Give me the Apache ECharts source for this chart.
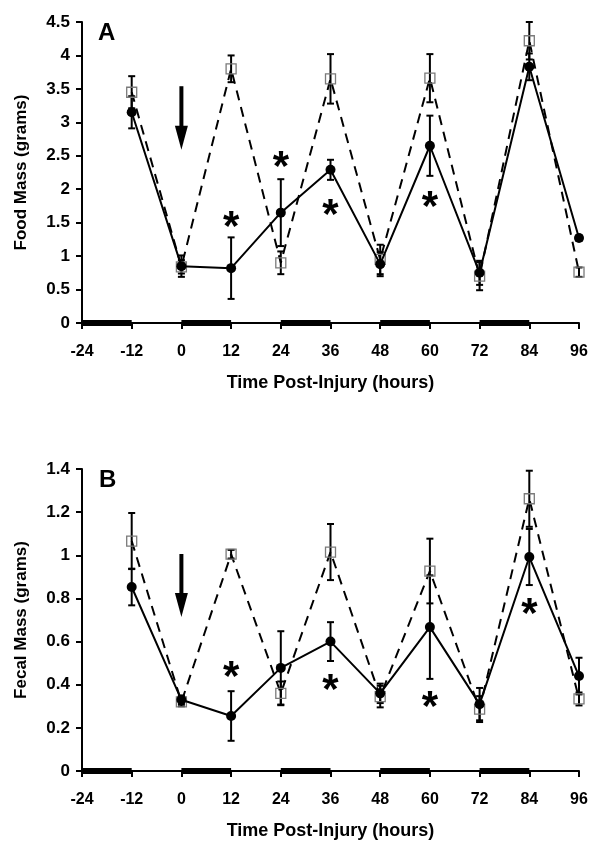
<!DOCTYPE html>
<html><head><meta charset="utf-8">
<script src="https://cdn.jsdelivr.net/npm/echarts/dist/echarts.min.js"></script>
<style>html,body{margin:0;padding:0;background:#fff}#c{width:600px;height:852px}</style>
</head><body><div id="c"></div>
<script>
// ---- data ----
const hours = [-12, 0, 12, 24, 36, 48, 60, 72, 84, 96];
const darkStarts = [-24, 0, 24, 48, 72];
const darkLength = 12;

// Panel A: Food Mass (grams)
const foodInjured    = [3.15, 0.85, 0.82, 1.65, 2.29, 0.88, 2.65, 0.75, 3.83, 1.27];
const foodInjuredErr = [0.24, 0.16, 0.46, 0.50, 0.15, 0.18, 0.45, 0.18, 0.20, 0.04];
const foodControl    = [3.45, 0.84, 3.80, 0.90, 3.65, 0.95, 3.66, 0.70, 4.22, 0.76];
const foodControlErr = [0.24, 0.10, 0.20, 0.17, 0.37, 0.22, 0.36, 0.21, 0.28, 0.07];
const foodStarsX = [12, 24, 36, 60];
const foodStarsY = [1.58, 2.48, 1.76, 1.87];
const foodArrow = [0, 3.54, 2.59];

// Panel B: Fecal Mass (grams)
const fecalInjured    = [0.853, 0.33, 0.255, 0.478, 0.60, 0.36, 0.667, 0.31, 0.992, 0.44];
const fecalInjuredErr = [0.085, 0.02, 0.115, 0.17, 0.09, 0.045, 0.24, 0.075, 0.13, 0.085];
const fecalControl    = [1.066, 0.32, 1.005, 0.36, 1.015, 0.345, 0.927, 0.287, 1.262, 0.334];
const fecalControlErr = [0.13, 0.02, 0.02, 0.055, 0.13, 0.05, 0.15, 0.06, 0.13, 0.03];
const fecalStarsX = [12, 36, 60, 84];
const fecalStarsY = [0.478, 0.422, 0.343, 0.77];
const fecalArrow = [0, 1.006, 0.714];

// ---- chart ----
const FONT = 'Liberation Sans, Arial, sans-serif';
const chart = echarts.init(document.getElementById('c'), null, {renderer: 'canvas'});

function pairs(v) { return hours.map((h, i) => [h, v[i]]); }
function errs(v, e) { return hours.map((h, i) => [h, v[i] - e[i], v[i] + e[i]]); }

function errRender(params, api) {
  const x = api.value(0), lo = api.value(1), hi = api.value(2);
  const p1 = api.coord([x, lo]), p2 = api.coord([x, hi]);
  const w = 3.5;
  const st = {stroke: '#000', lineWidth: 2};
  return {type: 'group', children: [
    {type: 'line', shape: {x1: p1[0], y1: p1[1], x2: p2[0], y2: p2[1]}, style: st},
    {type: 'line', shape: {x1: p1[0] - w, y1: p1[1], x2: p1[0] + w, y2: p1[1]}, style: st},
    {type: 'line', shape: {x1: p2[0] - w, y1: p2[1], x2: p2[0] + w, y2: p2[1]}, style: st}
  ]};
}
function darkRender(params, api) {
  const a = api.coord([api.value(0), 0]);
  const b = api.coord([api.value(0) + darkLength, 0]);
  return {type: 'rect', shape: {x: a[0], y: a[1] - 3, width: b[0] - a[0], height: 6}, style: {fill: '#000'}};
}
function starRender(params, api) {
  const p = api.coord([api.value(0), api.value(1)]);
  return {type: 'text', x: p[0], y: p[1] + 11, style: {text: '*', font: 'bold 42px ' + FONT, fill: '#000', align: 'center', verticalAlign: 'middle'}};
}
function arrowRender(params, api) {
  const top = api.coord([api.value(0), api.value(1)]);
  const tip = api.coord([api.value(0), api.value(2)]);
  const hl = 24, hw = 6.5;
  return {type: 'group', children: [
    {type: 'line', shape: {x1: top[0], y1: top[1], x2: tip[0], y2: tip[1] - hl + 2}, style: {stroke: '#000', lineWidth: 4}},
    {type: 'polygon', shape: {points: [[tip[0] - hw, tip[1] - hl], [tip[0] + hw, tip[1] - hl], [tip[0], tip[1]]]}, style: {fill: '#000'}}
  ]};
}

function xAxis(idx) {
  return {
    type: 'value', gridIndex: idx, min: -24, max: 96, interval: 12,
    name: 'Time Post-Injury (hours)', nameLocation: 'middle', nameGap: 51,
    nameTextStyle: {fontFamily: FONT, fontWeight: 'bold', fontSize: 18, color: '#000'},
    axisLine: {onZero: false, lineStyle: {color: '#000', width: 2}},
    axisTick: {show: true, length: 6, lineStyle: {color: '#000', width: 2}},
    axisLabel: {fontFamily: FONT, fontWeight: 'bold', fontSize: 16, color: '#000', margin: 21},
    splitLine: {show: false}
  };
}
function yAxis(idx, max, interval, name) {
  return {
    type: 'value', gridIndex: idx, min: 0, max: max, interval: interval,
    name: name, nameLocation: 'middle', nameGap: 52,
    nameTextStyle: {fontFamily: FONT, fontWeight: 'bold', fontSize: 17, color: '#000'},
    axisLine: {show: true, onZero: false, lineStyle: {color: '#000', width: 2}},
    axisTick: {show: true, length: 6, lineStyle: {color: '#000', width: 2}},
    axisLabel: {fontFamily: FONT, fontWeight: 'bold', fontSize: 17, color: '#000', margin: 12},
    splitLine: {show: false}
  };
}

function panelSeries(idx, ctrl, ctrlE, inj, injE, sx, sy, arrow) {
  return [
    {type: 'custom', xAxisIndex: idx, yAxisIndex: idx, renderItem: darkRender, data: darkStarts.map(s => [s, 0]), z: 1, silent: true, clip: false},
    {type: 'custom', xAxisIndex: idx, yAxisIndex: idx, renderItem: errRender, data: errs(ctrl, ctrlE), z: 3, silent: true, clip: false},
    {type: 'custom', xAxisIndex: idx, yAxisIndex: idx, renderItem: errRender, data: errs(inj, injE), z: 3, silent: true, clip: false},
    {type: 'line', xAxisIndex: idx, yAxisIndex: idx, data: pairs(ctrl), symbol: 'rect', symbolSize: 10,
      lineStyle: {color: '#000', width: 2, type: [10, 7]},
      itemStyle: {color: 'rgba(255,255,255,0)', borderColor: '#7a7a7a', borderWidth: 1.3}, z: 4, silent: true},
    {type: 'line', xAxisIndex: idx, yAxisIndex: idx, data: pairs(inj), symbol: 'circle', symbolSize: 10,
      lineStyle: {color: '#000', width: 2}, itemStyle: {color: '#000'}, z: 5, silent: true},
    {type: 'custom', xAxisIndex: idx, yAxisIndex: idx, renderItem: starRender, data: sx.map((x, i) => [x, sy[i]]), z: 6, silent: true, clip: false},
    {type: 'custom', xAxisIndex: idx, yAxisIndex: idx, renderItem: arrowRender, data: [arrow], z: 6, silent: true, clip: false}
  ];
}

chart.setOption({
  animation: false,
  backgroundColor: '#fff',
  grid: [
    {left: 82, width: 497, top: 22, height: 301},
    {left: 82, width: 497, top: 469, height: 302}
  ],
  xAxis: [xAxis(0), xAxis(1)],
  yAxis: [yAxis(0, 4.5, 0.5, 'Food Mass (grams)'), yAxis(1, 1.4, 0.2, 'Fecal Mass (grams)')],
  graphic: [
    {type: 'text', left: 98, top: 21, style: {text: 'A', font: 'bold 24px ' + FONT, fill: '#000'}},
    {type: 'text', left: 99, top: 468, style: {text: 'B', font: 'bold 24px ' + FONT, fill: '#000'}}
  ],
  series: [].concat(
    panelSeries(0, foodControl, foodControlErr, foodInjured, foodInjuredErr, foodStarsX, foodStarsY, foodArrow),
    panelSeries(1, fecalControl, fecalControlErr, fecalInjured, fecalInjuredErr, fecalStarsX, fecalStarsY, fecalArrow)
  )
});
</script></body></html>
